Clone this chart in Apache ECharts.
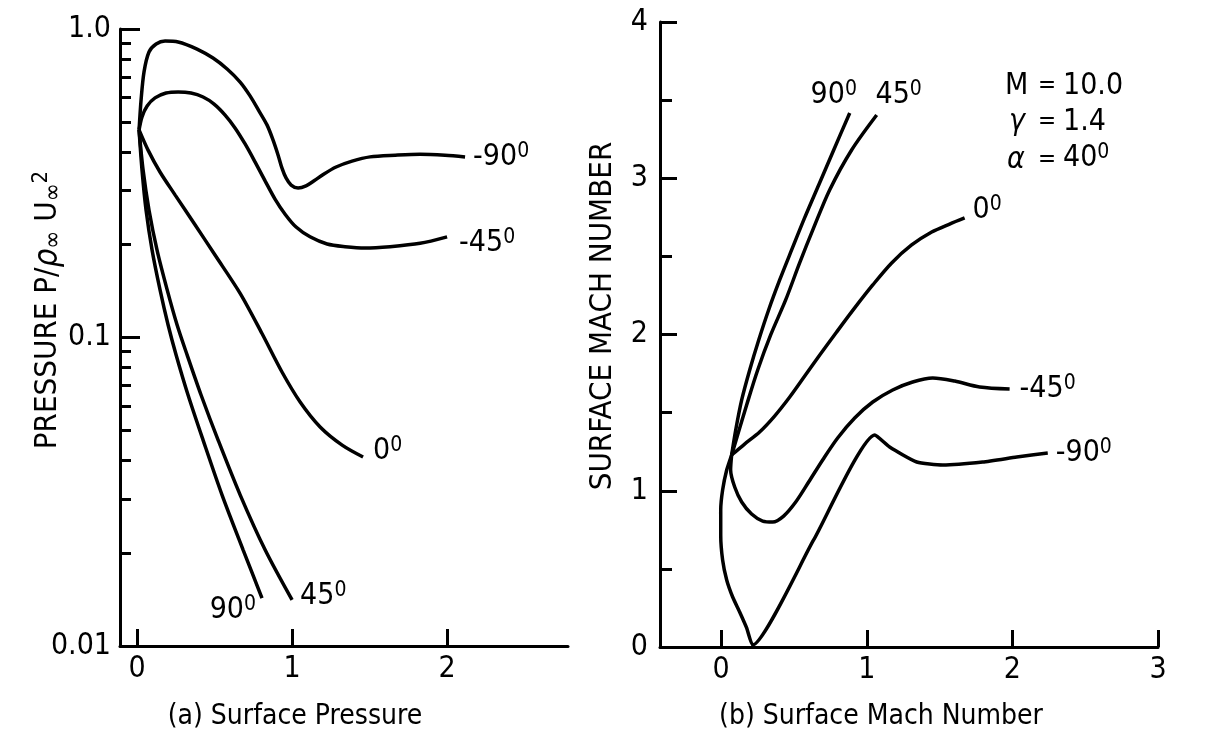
<!DOCTYPE html>
<html>
<head>
<meta charset="utf-8">
<script src="https://cdn.jsdelivr.net/npm/echarts@6/dist/echarts.min.js"></script>
<style>
  html, body { margin: 0; background: #fff; }
  #chart { width: 1210px; height: 737px; }
</style>
</head>
<body>
<div id="chart"></div>
<script>
// (a) surface pressure p / rho u^2  vs  surface distance
const pressM90 = [[0.013, 0.471], [0.026, 0.589], [0.045, 0.726], [0.077, 0.842], [0.123, 0.894], [0.181, 0.914], [0.265, 0.908], [0.387, 0.861], [0.49, 0.805], [0.581, 0.742], [0.665, 0.673], [0.729, 0.607], [0.787, 0.542], [0.839, 0.488], [0.877, 0.437], [0.91, 0.39], [0.935, 0.354], [0.961, 0.329], [0.994, 0.312], [1.039, 0.305], [1.09, 0.31], [1.142, 0.322], [1.206, 0.339], [1.284, 0.357], [1.387, 0.373], [1.503, 0.385], [1.665, 0.39], [1.826, 0.393], [1.987, 0.39], [2.116, 0.385]]
const pressM45 = [[0.013, 0.471], [0.032, 0.519], [0.065, 0.563], [0.116, 0.598], [0.187, 0.62], [0.265, 0.625], [0.348, 0.62], [0.426, 0.602], [0.497, 0.571], [0.568, 0.526], [0.632, 0.478], [0.697, 0.424], [0.761, 0.371], [0.826, 0.322], [0.89, 0.281], [0.955, 0.251], [1.026, 0.228], [1.116, 0.212], [1.226, 0.201], [1.342, 0.197], [1.471, 0.195], [1.632, 0.197], [1.826, 0.202], [2.0, 0.212]]
const press0 = [[0.013, 0.471], [0.071, 0.405], [0.148, 0.344], [0.245, 0.29], [0.374, 0.232], [0.503, 0.185], [0.665, 0.139], [0.806, 0.103], [0.935, 0.0773], [1.052, 0.0618], [1.181, 0.0513], [1.323, 0.0448], [1.458, 0.041]]
const press45 = [[0.013, 0.471], [0.039, 0.349], [0.077, 0.259], [0.129, 0.192], [0.194, 0.143], [0.258, 0.11], [0.323, 0.0878], [0.413, 0.0651], [0.523, 0.0465], [0.665, 0.0309], [0.826, 0.0205], [1.0, 0.0141]]
const press90 = [[0.013, 0.471], [0.032, 0.349], [0.058, 0.259], [0.097, 0.192], [0.148, 0.143], [0.2, 0.11], [0.252, 0.0878], [0.329, 0.0651], [0.426, 0.0465], [0.548, 0.0309], [0.684, 0.0205], [0.806, 0.0143]]

// (b) surface mach number vs surface distance
const mach90 = [[0.072, 1.229], [0.1, 1.389], [0.141, 1.581], [0.196, 1.773], [0.258, 1.965], [0.326, 2.157], [0.402, 2.349], [0.484, 2.541], [0.573, 2.746], [0.67, 2.957], [0.773, 3.181], [0.883, 3.418]]
const mach45 = [[0.072, 1.229], [0.113, 1.357], [0.175, 1.549], [0.251, 1.773], [0.34, 1.997], [0.443, 2.221], [0.539, 2.458], [0.635, 2.682], [0.745, 2.925], [0.896, 3.181], [1.068, 3.405]]
const mach0 = [[0.072, 1.229], [0.161, 1.299], [0.264, 1.376], [0.367, 1.478], [0.471, 1.6], [0.574, 1.734], [0.677, 1.869], [0.793, 2.016], [0.917, 2.17], [1.041, 2.317], [1.171, 2.458], [1.308, 2.573], [1.446, 2.656], [1.569, 2.707], [1.672, 2.746]]
const machM45 = [[0.072, 1.229], [0.065, 1.133], [0.093, 1.024], [0.141, 0.928], [0.209, 0.851], [0.285, 0.806], [0.354, 0.8], [0.429, 0.838], [0.512, 0.928], [0.601, 1.056], [0.697, 1.197], [0.8, 1.338], [0.917, 1.466], [1.041, 1.568], [1.178, 1.645], [1.315, 1.696], [1.453, 1.722], [1.604, 1.702], [1.775, 1.664], [1.981, 1.651]]
const machM90 = [[0.072, 1.229], [0.038, 1.133], [0.01, 1.005], [-0.003, 0.877], [-0.003, 0.717], [0.01, 0.557], [0.038, 0.429], [0.079, 0.32], [0.127, 0.224], [0.175, 0.122], [0.216, 0.013], [0.635, 0.685], [1.055, 1.357], [1.157, 1.28], [1.343, 1.184], [1.521, 1.165], [1.796, 1.184], [2.03, 1.216], [2.243, 1.242]]

// ticks
const pressXTicks = [0, 1, 2]
const pressYTicks = [0.01, 0.1, 1]
const pressYMinor = [0.02, 0.03, 0.04, 0.05, 0.06, 0.07, 0.08, 0.09, 0.2, 0.3, 0.4, 0.5, 0.6, 0.7, 0.8, 0.9]
const machXTicks = [0, 1, 2, 3]

const FONT = '"Liberation Sans Narrow", "DejaVu Sans Condensed", sans-serif'
const black = '#000'

let chart = echarts.init(document.getElementById('chart'))

let line = { show: true, onZero: false, lineStyle: { color: black, width: 3 } }
let label = { color: black, fontFamily: FONT, fontSize: 30 }

// angle label at the end of a curve, with a raised small "0"
function degLabel (text, offset, align) {
  return {
    show: true,
    formatter: '{n|' + text + '}{s|0}',
    offset: offset,
    align: align || 'left',
    verticalAlign: 'middle',
    distance: 4,
    rich: {
      n: { fontFamily: FONT, fontSize: 30, color: black },
      s: { fontFamily: FONT, fontSize: 21, color: black, verticalAlign: 'top', padding: [0, 0, 11, 0] }
    }
  }
}

function curve (data, xi, yi, endLabel, smooth) {
  return {
    type: 'line',
    data: data,
    xAxisIndex: xi,
    yAxisIndex: yi,
    symbol: 'none',
    smooth: smooth || 0.3,
    lineStyle: { color: black, width: 3.5 },
    endLabel: endLabel,
    silent: true
  }
}

let option = {
  animation: false,
  backgroundColor: '#fff',
  grid: [
    { left: 120, top: 29, width: 448, height: 617 },
    { left: 660, top: 22, width: 498, height: 625 }
  ],
  xAxis: [
    {
      type: 'value', gridIndex: 0, min: -0.11, max: 2.78, position: 'bottom',
      axisLine: line,
      axisTick: { inside: true, length: 17, lineStyle: { color: black, width: 3 }, customValues: pressXTicks },
      axisLabel: Object.assign({ margin: 8, customValues: pressXTicks }, label),
      splitLine: { show: false }
    },
    {
      type: 'value', gridIndex: 1, min: -0.42, max: 3, position: 'bottom',
      axisLine: line,
      axisTick: { inside: true, length: 17, lineStyle: { color: black, width: 3 }, customValues: machXTicks },
      axisLabel: Object.assign({ margin: 8, customValues: machXTicks }, label),
      splitLine: { show: false }
    }
  ],
  yAxis: [
    {
      type: 'log', logBase: 10, gridIndex: 0, min: 0.01, max: 1, position: 'left',
      axisLine: line,
      axisTick: { inside: true, length: 20, lineStyle: { color: black, width: 3 }, customValues: pressYTicks },
      axisLabel: Object.assign({
        margin: 9, customValues: pressYTicks,
        formatter: v => (v >= 1 ? '1.0' : v >= 0.1 ? '0.1' : '0.01')
      }, label),
      splitLine: { show: false }
    },
    {
      // minor ticks of the log axis
      type: 'log', logBase: 10, gridIndex: 0, min: 0.01, max: 1, position: 'left',
      axisLine: { show: false, onZero: false },
      axisTick: { inside: true, length: 11, lineStyle: { color: black, width: 3 }, customValues: pressYMinor },
      axisLabel: { show: false },
      splitLine: { show: false }
    },
    {
      type: 'value', gridIndex: 1, min: 0, max: 4, interval: 1, position: 'left',
      axisLine: line,
      axisTick: { inside: true, length: 17, lineStyle: { color: black, width: 3 } },
      minorTick: { show: true, splitNumber: 2, length: 12, lineStyle: { color: black, width: 3 } },
      axisLabel: Object.assign({ margin: 12 }, label),
      splitLine: { show: false },
      minorSplitLine: { show: false }
    }
  ],
  series: [
    curve(pressM90, 0, 0, degLabel('-90', [4, 0])),
    curve(pressM45, 0, 0, degLabel('-45', [8, 6])),
    curve(press0, 0, 0, degLabel('0', [6, -6])),
    curve(press45, 0, 0, degLabel('45', [4, -4])),
    curve(press90, 0, 0, degLabel('90', [-10, 12], 'right')),
    curve(mach90, 1, 2, degLabel('90', [-20, -18], 'center')),
    curve(mach45, 1, 2, degLabel('45', [18, -20], 'center')),
    curve(mach0, 1, 2, degLabel('0', [4, -8])),
    curve(machM45, 1, 2, degLabel('-45', [6, 0])),
    curve(machM90, 1, 2, degLabel('-90', [4, 0]), 0.18)
  ],
  graphic: [
    {
      type: 'text', x: 48, y: 310, rotation: Math.PI / 2,
      style: {
        text: '{t|PRESSURE P/}{g|ρ}{b|∞}{t| U}{b|∞}{p|2}',
        align: 'center', verticalAlign: 'middle',
        rich: {
          t: { fontFamily: FONT, fontSize: 31, fill: black },
          g: { fontFamily: FONT, fontSize: 33, fontStyle: 'italic', fill: black },
          b: { fontFamily: FONT, fontSize: 24, fill: black, verticalAlign: 'bottom', padding: [9, 0, 0, 0] },
          p: { fontFamily: FONT, fontSize: 22, fill: black, verticalAlign: 'top', padding: [0, 0, 13, 0] }
        }
      }
    },
    {
      type: 'text', x: 603, y: 316, rotation: Math.PI / 2,
      style: { text: 'SURFACE MACH NUMBER', align: 'center', verticalAlign: 'middle', fontFamily: FONT, fontSize: 31, fill: black }
    },
    {
      type: 'text', x: 295, y: 717,
      style: { text: '(a) Surface Pressure', align: 'center', verticalAlign: 'middle', fontFamily: FONT, fontSize: 28, fill: black }
    },
    {
      type: 'text', x: 881, y: 717,
      style: { text: '(b) Surface Mach Number', align: 'center', verticalAlign: 'middle', fontFamily: FONT, fontSize: 28, fill: black }
    },
    { type: 'text', x: 1005, y: 86, style: { text: 'M', verticalAlign: 'middle', fontFamily: FONT, fontSize: 30, fill: black } },
    { type: 'text', x: 1009, y: 122, style: { text: 'γ', verticalAlign: 'middle', fontFamily: FONT, fontSize: 30, fontStyle: 'italic', fill: black } },
    { type: 'text', x: 1007, y: 160, style: { text: 'α', verticalAlign: 'middle', fontFamily: FONT, fontSize: 30, fontStyle: 'italic', fill: black } },
    { type: 'text', x: 1038, y: 86, style: { text: '=', verticalAlign: 'middle', fontFamily: FONT, fontSize: 24, fill: black } },
    { type: 'text', x: 1038, y: 122, style: { text: '=', verticalAlign: 'middle', fontFamily: FONT, fontSize: 24, fill: black } },
    { type: 'text', x: 1038, y: 160, style: { text: '=', verticalAlign: 'middle', fontFamily: FONT, fontSize: 24, fill: black } },
    { type: 'text', x: 1063, y: 86, style: { text: '10.0', verticalAlign: 'middle', fontFamily: FONT, fontSize: 30, fill: black } },
    { type: 'text', x: 1063, y: 122, style: { text: '1.4', verticalAlign: 'middle', fontFamily: FONT, fontSize: 30, fill: black } },
    {
      type: 'text', x: 1063, y: 158,
      style: {
        text: '{n|40}{s|0}', verticalAlign: 'middle',
        rich: {
          n: { fontFamily: FONT, fontSize: 30, fill: black },
          s: { fontFamily: FONT, fontSize: 21, fill: black, verticalAlign: 'top', padding: [0, 0, 11, 0] }
        }
      }
    }
  ]
}

option && chart.setOption(option)
</script>
</body>
</html>
